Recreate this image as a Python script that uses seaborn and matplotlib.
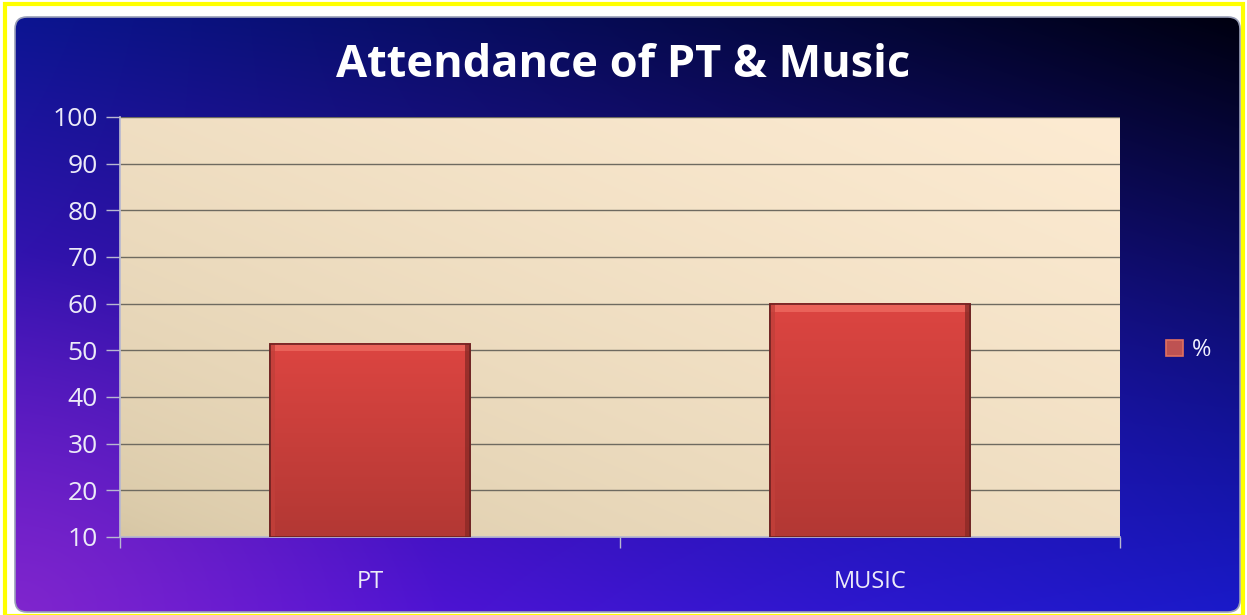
import numpy as np
import pandas as pd
import matplotlib
matplotlib.use("Agg")
import matplotlib.pyplot as plt
import seaborn as sns
from matplotlib.patches import FancyBboxPatch, Rectangle
from matplotlib.colors import to_rgb

categories = ["PT", "MUSIC"]
values = [51.4, 60.0]
series_name = "%"
title = "Attendance of PT & Music"
yticks = list(range(10, 101, 10))

sns.set_theme(style="white")
plt.rcParams["font.family"] = ["Open Sans", "DejaVu Sans"]

W, H = 1247, 615
fig = plt.figure(figsize=(W / 100, H / 100), dpi=100)
fig.patch.set_facecolor("white")

# background: rounded chart area with blue/purple/black gradient
bg = fig.add_axes([0, 0, 1, 1])
bg.set_xlim(0, W)
bg.set_ylim(H, 0)
bg.axis("off")
ny, nx = 120, 240
yy, xx = np.mgrid[0:1:ny * 1j, 0:1:nx * 1j]
tl, tr = np.array(to_rgb("#0c1592")), np.array(to_rgb("#000010"))
bl, br = np.array(to_rgb("#6a10d8")), np.array(to_rgb("#1a1ac8"))
img = ((1 - xx)[..., None] * (1 - yy)[..., None] * tl + xx[..., None] * (1 - yy)[..., None] * tr
       + (1 - xx)[..., None] * yy[..., None] * bl + xx[..., None] * yy[..., None] * br)
d = np.sqrt((xx / 0.35) ** 2 + ((1 - yy) / 0.6) ** 2)
glow = np.clip(1 - d, 0, 1)[..., None] * 0.45
img = img * (1 - glow) + np.array(to_rgb("#9a40c0")) * glow
band = np.exp(-((xx - 0.75) ** 2) / 0.08 - ((yy - 0.8) ** 2) / 0.15)[..., None] * 0.3
img = img * (1 - band) + np.array(to_rgb("#1818d0")) * band
x0, y0, x1, y1 = 15, 17, 1240, 612
im = bg.imshow(np.clip(img, 0, 1), extent=(x0, x1, y1, y0), aspect="auto", zorder=1,
               interpolation="bilinear")
clip = FancyBboxPatch((x0 + 12, y0 + 12), x1 - x0 - 24, y1 - y0 - 24,
                      boxstyle="round,pad=12", transform=bg.transData,
                      facecolor="none", edgecolor="#9aa0b8", lw=1.2, zorder=2)
bg.add_patch(clip)
im.set_clip_path(clip)
bg.add_patch(Rectangle((5, 4), W - 9, H - 3, fill=False, edgecolor="#ffff00", lw=3, zorder=3))

# plot area
ax = fig.add_axes([120 / W, 78 / H, 1000 / W, 420 / H])
ax.set_facecolor("none")
ymin, ymax = yticks[0], yticks[-1]
px, py = np.mgrid[0:1:60j, 0:1:120j]
c_lo, c_hi = np.array(to_rgb("#d6c6a4")), np.array(to_rgb("#fdebd2"))
t = np.clip((py + (1 - px)) / 2, 0, 1)[..., None] ** 0.6
ax.imshow(c_lo * (1 - t) + c_hi * t, extent=(-0.5, 1.5, ymin, ymax), aspect="auto",
          zorder=0, interpolation="bilinear")

df = pd.DataFrame({"category": categories, "value": values, "series": series_name})
sns.barplot(data=df, x="category", y="value", hue="series", palette=["#d04040"],
            width=0.4, edgecolor="#6e2222", linewidth=1.2, ax=ax, zorder=3)

# soft vertical gradient and bevel inside the visible part of each bar
for bar in list(ax.patches):
    bx, bw = bar.get_x(), bar.get_width()
    top_y = bar.get_y() + bar.get_height()
    low_y = max(bar.get_y(), ymin)
    if top_y <= low_y:
        continue
    g = np.linspace(0, 1, 50)[:, None, None]
    top, bot = np.array(to_rgb("#dc4541")), np.array(to_rgb("#b33834"))
    grad = top * (1 - g) + bot * g
    ax.imshow(np.repeat(grad, 2, axis=1), extent=(bx, bx + bw, low_y, top_y),
              aspect="auto", zorder=3.5, interpolation="bilinear")
    hh = (top_y - low_y) * 0.035
    ax.add_patch(Rectangle((bx, top_y - hh), bw, hh, facecolor="#ee6a60",
                           edgecolor="none", zorder=3.6, alpha=0.8))
    ww = bw * 0.025
    ax.add_patch(Rectangle((bx, low_y), ww, top_y - low_y, facecolor="#c2403a",
                           edgecolor="none", zorder=3.6, alpha=0.8))
    ax.add_patch(Rectangle((bx + bw - ww, low_y), ww, top_y - low_y, facecolor="#8c2a26",
                           edgecolor="none", zorder=3.6, alpha=0.8))
    ax.add_patch(Rectangle((bx, low_y), bw, top_y - low_y, facecolor="none",
                           edgecolor="#6e2222", lw=1.2, zorder=3.7))

ax.set_xlim(-0.5, 1.5)
ax.set_ylim(ymin, ymax)
ax.set_yticks(yticks)
ax.set_yticklabels([str(v) for v in yticks])
ax.yaxis.grid(True, color="#6e6a60", lw=1.0, zorder=1)
ax.set_axisbelow(True)
ax.set_xlabel("")
ax.set_ylabel("")
for s in ["top", "right"]:
    ax.spines[s].set_visible(False)
ax.spines["left"].set_color("#b8b8d0")
ax.spines["bottom"].set_color("#b8b8d0")
ax.tick_params(axis="y", colors="#b8b8d0", labelsize=19, length=10, width=1, left=True,
               direction="out", pad=6)
ax.set_xticks([0, 1])
ax.set_xticklabels(categories)
ax.tick_params(axis="x", colors="#b8b8d0", labelsize=17, length=0, pad=24)
ax.set_xticks([-0.5, 0.5, 1.5], minor=True)
ax.tick_params(axis="x", which="minor", length=8, color="#b8b8d0", bottom=True)
for lab in ax.get_xticklabels() + ax.get_yticklabels():
    lab.set_color("#ecebf8")

leg = ax.legend(loc="center left", bbox_to_anchor=(1.025, 0.445), frameon=False,
                fontsize=17, handlelength=0.7, handleheight=0.7, handletextpad=0.4)
for txt in leg.get_texts():
    txt.set_color("#f0f0ff")
for h in leg.legend_handles:
    h.set_edgecolor("#e07060")

fig.text(0.5, 0.893, title, ha="center", va="center", color="white",
         fontsize=32.5, fontweight="bold")

fig.savefig("out.png", dpi=100)
